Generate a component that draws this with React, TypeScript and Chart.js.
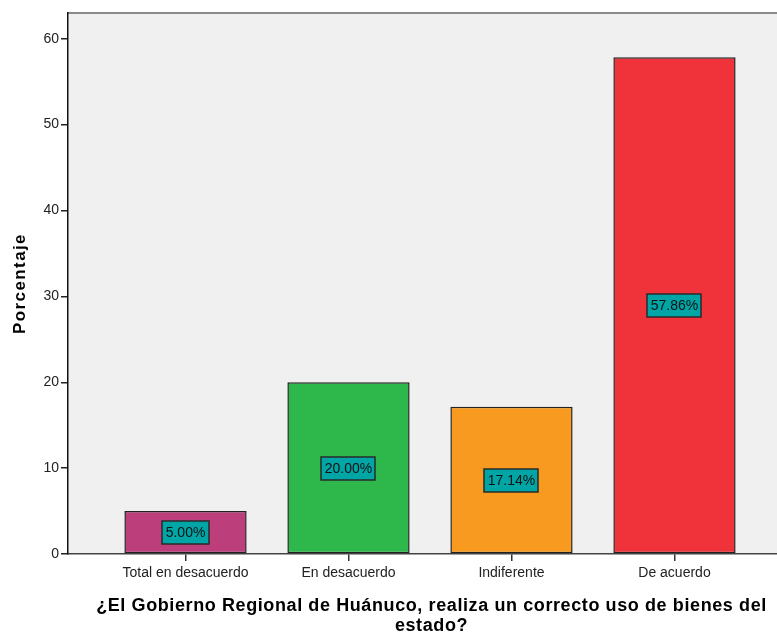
import React, { useEffect, useRef } from "react";
import { Chart, registerables } from "chart.js";

Chart.register(...registerables);

const categories = ["Total en desacuerdo", "En desacuerdo", "Indiferente", "De acuerdo"];
const percentages = [5.0, 20.0, 17.14, 57.86];
const barColors = ["#BC3F7C", "#2EB84B", "#F89A1F", "#F0323A"];
const yTickValues = [0, 10, 20, 30, 40, 50, 60];
const yTitle = "Porcentaje";
const xTitleLines = [
  "¿El Gobierno Regional de Huánuco, realiza un correcto uso de bienes del",
  "estado?",
];

const FONT = "'Liberation Sans', Arial, sans-serif";

const backgroundPlugin = {
  id: "bgPlugin",
  beforeDraw(chart: any) {
    const { ctx, chartArea } = chart;
    ctx.save();
    ctx.fillStyle = "#F0F0F0";
    ctx.fillRect(chartArea.left, chartArea.top, chartArea.right - chartArea.left, chartArea.bottom - chartArea.top);
    ctx.strokeStyle = "#8A8A8A";
    ctx.lineWidth = 2;
    ctx.beginPath();
    ctx.moveTo(chartArea.left, chartArea.top);
    ctx.lineTo(chartArea.right, chartArea.top);
    ctx.stroke();
    ctx.restore();
  },
};

const labelPlugin = {
  id: "labelPlugin",
  afterDatasetsDraw(chart: any) {
    const { ctx } = chart;
    const yScale = chart.scales.y;
    const meta = chart.getDatasetMeta(0);
    ctx.save();
    ctx.font = `14px ${FONT}`;
    meta.data.forEach((bar: any, i: number) => {
      const text = percentages[i].toFixed(2) + "%";
      const cx = bar.x;
      const cy = yScale.getPixelForValue(percentages[i] / 2);
      const w = ctx.measureText(text).width + 7;
      const h = 23;
      ctx.fillStyle = "#00A6A6";
      ctx.fillRect(Math.round(cx - w / 2), Math.round(cy - h / 2), Math.round(w), h);
      ctx.strokeStyle = "#2A2A2A";
      ctx.lineWidth = 1.5;
      ctx.strokeRect(Math.round(cx - w / 2), Math.round(cy - h / 2), Math.round(w), h);
      ctx.fillStyle = "#111";
      ctx.textAlign = "center";
      ctx.textBaseline = "middle";
      ctx.fillText(text, cx, cy + 1);
    });
    ctx.restore();
  },
};

const titlePlugin = {
  id: "titlePlugin",
  afterDraw(chart: any) {
    const { ctx, chartArea } = chart;
    ctx.save();
    ctx.fillStyle = "#000";
    ctx.textAlign = "center";
    ctx.textBaseline = "middle";
    ctx.font = `bold 17px ${FONT}`;
    try { (ctx as any).letterSpacing = "1.4px"; } catch (e) {}
    ctx.translate(20, (chartArea.top + chartArea.bottom) / 2);
    ctx.rotate(-Math.PI / 2);
    ctx.fillText(yTitle, 0, 0);
    ctx.restore();

    ctx.save();
    ctx.fillStyle = "#000";
    ctx.textAlign = "center";
    ctx.textBaseline = "middle";
    ctx.font = `bold 18px ${FONT}`;
    try { (ctx as any).letterSpacing = "0.6px"; } catch (e) {}
    const cx = (chartArea.left + chartArea.right) / 2 + 9;
    ctx.fillText(xTitleLines[0], cx, chartArea.bottom + 52);
    ctx.fillText(xTitleLines[1], cx, chartArea.bottom + 72);
    ctx.restore();
  },
};

export default function App() {
  const canvasRef = useRef<HTMLCanvasElement | null>(null);

  useEffect(() => {
    document.body.style.margin = "0";
    const canvas = canvasRef.current;
    if (!canvas) return;
    const chart = new Chart(canvas, {
      type: "bar",
      data: {
        datasets: [
          {
            data: percentages.map((v, i) => ({ x: i, y: v })),
            backgroundColor: barColors,
            borderColor: "#222222",
            borderWidth: 1.5,
            borderSkipped: false,
            barPercentage: 0.75,
            categoryPercentage: 1,
          },
        ],
      },
      options: {
        animation: false,
        responsive: false,
        devicePixelRatio: 1,
        layout: { padding: { top: 13, right: 0, left: 0, bottom: 0 } },
        plugins: {
          legend: { display: false },
          tooltip: { enabled: false },
          title: { display: false },
        },
        scales: {
          x: {
            type: "linear",
            offset: false,
            min: -0.721,
            max: 3.629,
            afterBuildTicks: (scale: any) => {
              scale.ticks = categories.map((_, i) => ({ value: i }));
            },
            afterFit: (scale: any) => {
              scale.height = 80;
            },
            ticks: {
              autoSkip: false,
              maxRotation: 0,
              minRotation: 0,
              padding: 4,
              color: "#222",
              font: { family: FONT, size: 14 },
              callback: (v: any) => categories[v as number] ?? "",
            },
            grid: {
              offset: false,
              drawOnChartArea: false,
              drawTicks: true,
              tickLength: 7,
              color: "#333",
              lineWidth: 1.5,
            },
            border: { display: true, color: "#444", width: 1.5 },
          },
          y: {
            type: "linear",
            min: 0,
            max: 63,
            afterBuildTicks: (scale: any) => {
              scale.ticks = yTickValues.map((v) => ({ value: v }));
            },
            afterFit: (scale: any) => {
              scale.width = 68;
            },
            ticks: {
              padding: 2,
              color: "#222",
              font: { family: FONT, size: 14 },
            },
            grid: {
              drawOnChartArea: false,
              drawTicks: true,
              tickLength: 7,
              color: "#222",
              lineWidth: 1.5,
            },
            border: { display: true, color: "#111", width: 1.5 },
          },
        },
      },
      plugins: [backgroundPlugin, labelPlugin, titlePlugin],
    } as any);
    return () => chart.destroy();
  }, []);

  return (
    <div style={{ width: 777, height: 634 }}>
      <canvas ref={canvasRef} width={777} height={634} style={{ display: "block" }} />
    </div>
  );
}
